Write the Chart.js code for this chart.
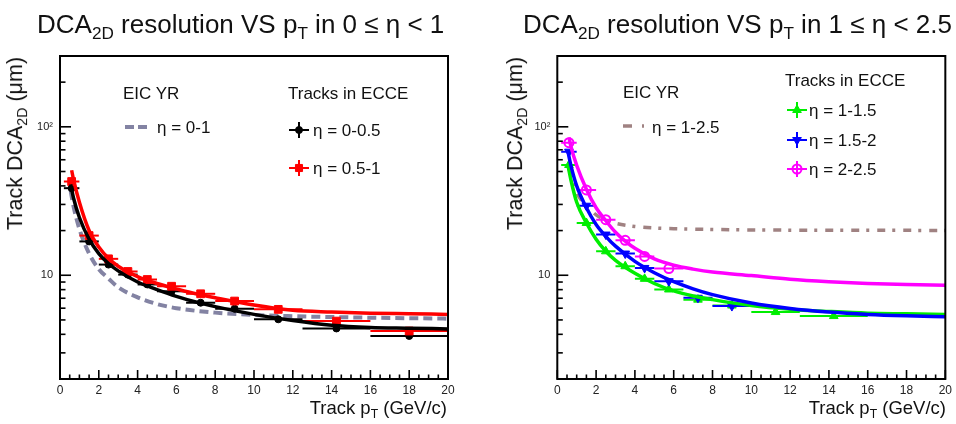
<!DOCTYPE html>
<html><head><meta charset="utf-8">
<script src="https://cdn.jsdelivr.net/npm/chart.js@4.4.0/dist/chart.umd.min.js"></script>
<style>
html,body{margin:0;padding:0;background:#fff;}
#wrap{position:relative;width:956px;height:424px;overflow:hidden;font-family:"Liberation Sans",Arial,Helvetica,sans-serif;color:#111;}
canvas{position:absolute;top:0;}
.t{position:absolute;white-space:nowrap;line-height:1;}
.sub{font-size:0.66em;vertical-align:-0.34em;}
.title{font-size:26px;}
.ax{font-size:18.5px;}
.ay{font-size:21.5px;transform-origin:100% 0;transform:rotate(-90deg);}
.leg{font-size:17px;}
</style></head>
<body><div id="wrap">
<canvas id="c1" width="478" height="424" style="left:0"></canvas>
<canvas id="c2" width="478" height="424" style="left:478px"></canvas>

<div class="t title" style="left:37px;top:11px">DCA<span class="sub">2D</span> resolution VS p<span class="sub">T</span> in 0 ≤ η &lt; 1</div>
<div class="t title" style="left:523px;top:11px">DCA<span class="sub">2D</span> resolution VS p<span class="sub">T</span> in 1 ≤ η &lt; 2.5</div>

<div class="t ax" style="right:509px;top:399px">Track p<span class="sub">T</span> (GeV/c)</div>
<div class="t ax" style="right:10px;top:399px">Track p<span class="sub">T</span> (GeV/c)</div>

<div class="t ay" style="right:951px;top:57px">Track DCA<span class="sub">2D</span> (μm)</div>
<div class="t ay" style="right:451px;top:57px">Track DCA<span class="sub">2D</span> (μm)</div>

<div class="t leg" style="left:123px;top:85px">EIC YR</div>
<div class="t leg" style="left:157px;top:119px">η = 0-1</div>
<div class="t leg" style="left:288px;top:85px">Tracks in ECCE</div>
<div class="t leg" style="left:313px;top:122px">η = 0-0.5</div>
<div class="t leg" style="left:313px;top:160px">η = 0.5-1</div>

<div class="t leg" style="left:623px;top:84px">EIC YR</div>
<div class="t leg" style="left:652px;top:119px">η = 1-2.5</div>
<div class="t leg" style="left:785px;top:72px">Tracks in ECCE</div>
<div class="t leg" style="left:809px;top:102px">η = 1-1.5</div>
<div class="t leg" style="left:809px;top:132px">η = 1.5-2</div>
<div class="t leg" style="left:809px;top:161px">η = 2-2.5</div>
</div>
<script>
// ---------- data ----------
const ptCenters = [0.6, 1.5, 2.5, 3.5, 4.5, 5.75, 7.25, 9, 11.25, 14.25, 18];
const binLow    = [0.2, 1, 2, 3, 4, 5, 6.5, 8, 10, 12.5, 16];
const binHigh   = [1, 2, 3, 4, 5, 6.5, 8, 10, 12.5, 16, 20];

// left panel: 0 <= eta < 1
const eta0005 = [38.6, 16.9, 11.8, 10.1, 8.67, 7.8, 6.53, 5.95, 5.05, 4.38, 3.9];
const eta0510 = [42.8, 18.5, 12.9, 10.6, 9.36, 8.43, 7.5, 6.7, 5.89, 4.91, 4.21];
const fitX_A   = [0.55, 0.7, 1, 1.5, 2, 2.5, 3, 4, 5, 6, 7, 8, 10, 12, 14, 16, 18, 20];
const fit0005  = [41, 33, 24.5, 17.5, 14, 12, 10.7, 9.0, 8.0, 7.2, 6.6, 6.15, 5.45, 4.95, 4.6, 4.45, 4.4, 4.35];
const fitX_B   = [0.6, 0.7, 1, 1.5, 2, 2.5, 3, 4, 5, 6, 7, 8, 10, 12, 14, 16, 18, 20];
const fit0510  = [51, 44, 31, 20, 15.5, 13, 11.5, 9.8, 8.8, 8.1, 7.5, 7.05, 6.3, 5.8, 5.65, 5.55, 5.5, 5.45];
const yrX_0010 = [0.55, 0.7, 1, 1.5, 2, 2.5, 3, 4, 5, 6, 8, 10, 12, 15, 20];
const yr0010   = [37, 29, 20.5, 14, 11, 9.5, 8.3, 7.1, 6.4, 6.0, 5.6, 5.4, 5.3, 5.2, 5.1];

// right panel: 1 <= eta < 2.5
const eta1015 = [55.3, 22.5, 14.5, 11.5, 9.46, 8.02, 6.85, 6.25, 5.65, 5.31, null];
const eta1520 = [68, 29.4, 18.8, 14.0, 11.2, 9.12, 7.05, 6.2, null, null, null];
const eta2025 = [78.2, 37.6, 23.7, 17.2, 13.4, 11.1, null, null, null, null, null];
const fitX_C   = [0.55, 0.7, 1, 1.5, 2, 2.5, 3, 4, 5, 6, 7, 8, 10, 12, 14, 16, 18, 20];
const fit1015  = [55, 44, 31, 22.5, 17.5, 14.5, 12.6, 10.3, 8.8, 7.85, 7.25, 6.85, 6.25, 5.9, 5.7, 5.55, 5.5, 5.45];
const fit1520  = [68, 55, 40, 28.5, 22, 18.3, 15.7, 12.4, 10.4, 9.05, 8.1, 7.4, 6.5, 5.97, 5.65, 5.45, 5.33, 5.25];
const fitX_D   = [0.6, 0.7, 1, 1.5, 2, 2.5, 3, 3.5, 4, 5, 6, 7, 8, 10, 12, 14, 16, 18, 20];
const fit2025  = [85, 74, 55, 38, 28.5, 23.3, 19.5, 17.0, 15.2, 12.9, 11.7, 11.0, 10.5, 9.95, 9.4, 9.05, 8.8, 8.65, 8.55];
const yrX_1025 = [0.6, 1, 1.5, 2, 2.5, 3, 4, 5, 6, 8, 10, 14, 20];
const yr1025   = [52, 36, 29.5, 25.5, 23.5, 22.4, 21.3, 20.8, 20.6, 20.35, 20.2, 20.1, 20.05];

const xTickLabels = ['0','2','4','6','8','10','12','14','16','18','20'];
const yTickValues = [2,3,4,5,6,7,8,9,10,20,30,40,50,60,70,80,90,100,200,300];
const yTickLabels = {10:'10', 100:'10\u00B2'};

// ---------- helpers ----------
const pairs = (xs, ys) => xs.map((x, i) => ({x, y: ys[i]}));
const pts = ys => ys.map((y, i) => y == null ? null : ({x: ptCenters[i], y, lo: binLow[i], hi: binHigh[i]})).filter(Boolean);

function lineDs(xs, ys, color, dash, order, w) {
  return {type:'line', data: pairs(xs, ys), borderColor: color, borderWidth: w || 3.5, borderDash: dash || [],
          pointRadius: 0, fill: false, cubicInterpolationMode: 'monotone', order};
}
function ptDs(ys, color, style, radius, order, extra) {
  return Object.assign({type:'line', showLine:false, data: pts(ys), borderColor: color, backgroundColor: color,
          pointStyle: style, pointRadius: radius, pointBorderWidth: 1, pointHoverRadius: radius, errBars: true, order}, extra || {});
}

const errBars = {
  id: 'errBars',
  beforeDatasetDraw(chart, args) {
    const ds = chart.data.datasets[args.index];
    if (!ds.errBars) return;
    const {ctx, scales: {x, y}, chartArea: a} = chart;
    ctx.save();
    ctx.beginPath(); ctx.rect(a.left, a.top, a.right - a.left, a.bottom - a.top); ctx.clip();
    ctx.strokeStyle = ds.borderColor; ctx.lineWidth = 2;
    ds.data.forEach(p => {
      const py = y.getPixelForValue(p.y);
      ctx.beginPath(); ctx.moveTo(x.getPixelForValue(p.lo), py); ctx.lineTo(x.getPixelForValue(p.hi), py); ctx.stroke();
    });
    ctx.restore();
  }
};

const frameTicks = {
  id: 'frameTicks',
  afterDatasetsDraw(chart) {
    const {ctx, chartArea: a, scales: {x, y}} = chart;
    ctx.save();
    ctx.strokeStyle = '#000'; ctx.lineWidth = 1.6;
    for (let i = 0; i <= 40; i++) {
      const px = x.getPixelForValue(i * 0.5);
      const L = (i % 4 === 0) ? 9 : 4.5;
      ctx.beginPath(); ctx.moveTo(px, a.bottom); ctx.lineTo(px, a.bottom - L); ctx.stroke();
    }
    y.ticks.forEach(t => {
      const py = y.getPixelForValue(t.value);
      const L = (t.value === 10 || t.value === 100) ? 11 : 5.5;
      ctx.beginPath(); ctx.moveTo(a.left, py); ctx.lineTo(a.left + L, py); ctx.stroke();
    });
    ctx.lineWidth = 2;
    ctx.strokeRect(a.left, a.top, a.right - a.left, a.bottom - a.top);
    ctx.restore();
  }
};

const legendSymbols = {
  id: 'legendSymbols',
  afterDraw(chart, args, opts) {
    const ctx = chart.ctx;
    (opts.items || []).forEach(it => {
      ctx.save();
      ctx.strokeStyle = it.color; ctx.fillStyle = it.color;
      if (it.kind === 'line') {
        ctx.lineWidth = it.width; ctx.setLineDash(it.dash);
        ctx.beginPath(); ctx.moveTo(it.x0, it.y); ctx.lineTo(it.x1, it.y); ctx.stroke();
      } else {
        ctx.lineWidth = 2;
        ctx.beginPath();
        ctx.moveTo(it.x - 10, it.y); ctx.lineTo(it.x + 10, it.y);
        ctx.moveTo(it.x, it.y - 8); ctx.lineTo(it.x, it.y + 8);
        ctx.stroke();
        ctx.lineWidth = it.bw || 1;
        if (it.open) ctx.fillStyle = 'rgba(0,0,0,0)';
        Chart.helpers.drawPoint(ctx, {pointStyle: it.style, radius: it.r, rotation: it.rot || 0, borderWidth: it.bw || 1}, it.x, it.y);
      }
      ctx.restore();
    });
  }
};

function makeChart(id, datasets, padLeft, padRight, legendItems) {
  return new Chart(document.getElementById(id), {
    data: {datasets},
    options: {
      responsive: false, animation: false, devicePixelRatio: 1,
      layout: {padding: {left: padLeft, right: padRight, top: 56, bottom: 25}},
      plugins: {legend: {display: false}, tooltip: {enabled: false}, legendSymbols: {items: legendItems}},
      scales: {
        x: {type: 'linear', min: 0, max: 20,
            grid: {display: false, drawTicks: false}, border: {display: false},
            afterBuildTicks: s => { s.ticks = xTickLabels.map(v => ({value: +v})); },
            afterFit: s => { s.height = 20; },
            ticks: {autoSkip: false, maxRotation: 0, padding: 4, color: '#222',
                    font: {family: '"Liberation Sans", Arial, sans-serif', size: 12},
                    callback: v => xTickLabels.includes(String(v)) ? String(v) : ''}},
        y: {type: 'logarithmic', min: 2, max: 300,
            grid: {display: false, drawTicks: false}, border: {display: false},
            afterBuildTicks: s => { s.ticks = yTickValues.map(v => ({value: v})); },
            afterFit: s => { s.width = 30; },
            ticks: {autoSkip: false, padding: 7, color: '#222',
                    font: {family: '"Liberation Sans", Arial, sans-serif', size: 11},
                    callback: v => yTickLabels[v] || ''}}
      }
    },
    plugins: [errBars, frameTicks, legendSymbols]
  });
}

makeChart('c1', [
  lineDs(yrX_0010, yr0010, '#8383a3', [9, 5], 6, 4),
  ptDs(eta0005, '#000000', 'circle', 3.5, 5),
  ptDs(eta0510, '#ff0000', 'rect', 5.5, 4),
  lineDs(fitX_A, fit0005, '#000000', [], 3),
  lineDs(fitX_B, fit0510, '#ff0000', [], 2)
], 30, 30, [
  {kind: 'line', x0: 125, x1: 151, y: 127, color: '#8383a3', width: 4, dash: [9, 4]},
  {kind: 'marker', x: 299, y: 130, color: '#000000', style: 'circle', r: 3.5},
  {kind: 'marker', x: 299, y: 168, color: '#ff0000', style: 'rect', r: 5}
]);

makeChart('c2', [
  lineDs(yrX_1025, yr1025, '#a08282', [8, 7, 3, 8], 8, 3.5),
  ptDs(eta1015, '#00ee00', 'triangle', 5, 7),
  ptDs(eta1520, '#0000ff', 'triangle', 5, 6, {pointRotation: 180}),
  ptDs(eta2025, '#ff00ff', 'circle', 4.5, 5, {backgroundColor: 'rgba(255,255,255,0)', pointBorderWidth: 2}),
  lineDs(fitX_C, fit1015, '#00ee00', [], 4),
  lineDs(fitX_C, fit1520, '#0000ff', [], 3),
  lineDs(fitX_D, fit2025, '#ff00ff', [], 2)
], 49.3, 9.3, [
  {kind: 'line', x0: 145, x1: 166, y: 126, color: '#a08282', width: 3.5, dash: [9, 10, 3, 8]},
  {kind: 'marker', x: 319, y: 110, color: '#00ee00', style: 'triangle', r: 5},
  {kind: 'marker', x: 319, y: 140, color: '#0000ff', style: 'triangle', r: 5, rot: 180},
  {kind: 'marker', x: 319, y: 169, color: '#ff00ff', style: 'circle', r: 4.5, open: true, bw: 2}
]);
</script>
</body></html>
